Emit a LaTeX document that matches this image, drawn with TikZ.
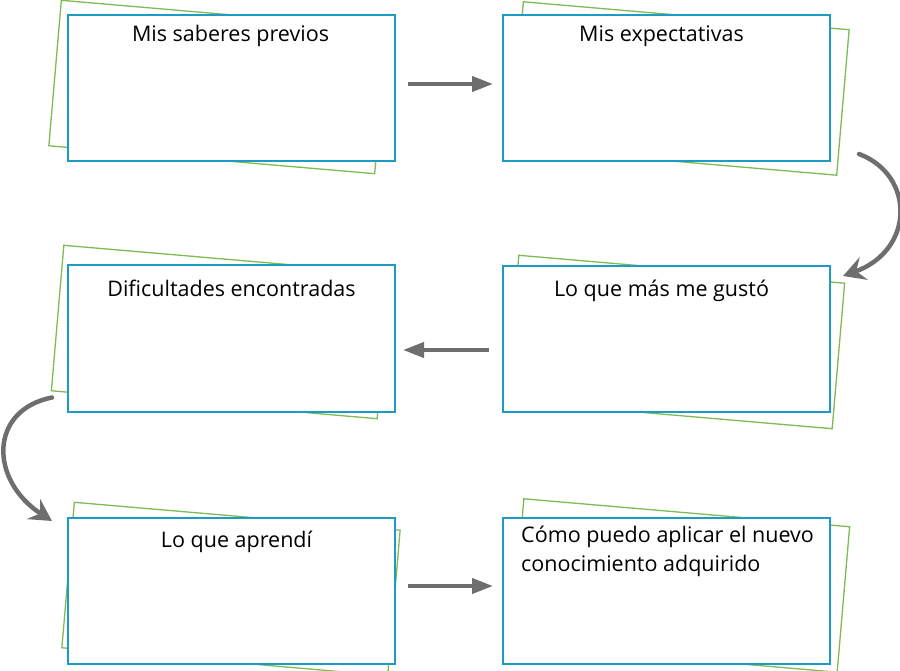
\documentclass[tikz,border=0pt]{standalone}
\usepackage{fontspec}
\setmainfont{Open Sans}
\usetikzlibrary{arrows.meta,calc}
\definecolor{boxblue}{HTML}{1E9BC4}
\definecolor{cardgreen}{HTML}{7DBB55}
\definecolor{arrowgray}{HTML}{6E6E6E}
\begin{document}
\begin{tikzpicture}[x=1pt,y=-1pt,
 card/.style={draw=cardgreen, line width=1.3pt, fill=white, minimum width=327pt, minimum height=146pt, inner sep=0pt, rotate=-4.9},
 panel/.style={draw=boxblue, line width=2pt, fill=white, minimum width=327pt, minimum height=146pt, inner sep=0pt},
 title/.style={font=\fontsize{21.5}{29}\selectfont, anchor=base, inner sep=0pt, text=black},
 flow/.style={draw=arrowgray, line width=4pt, -{Triangle[length=21pt,width=15pt]}},
 curvearrow/.style={draw=arrowgray, line width=4.5pt, line cap=round, -{Stealth[length=22pt,width=24pt,inset=8pt]}}]
\useasboundingbox (0,0) rectangle (900,671);
% green cards behind
\node[card] (g1) at (218,87) {};
\node[card] (g2) at (680,88.5) {};
\node[card] (g3) at (675.5,342) {};
\node[card] (g4) at (220.5,332) {};
\node[card] (g5) at (231,589) {};
\node[card] (g6) at (680.5,585.5) {};
% blue panels
\node[panel] (b1) at (231.5,88) {};
\node[panel] (b2) at (666.5,88) {};
\node[panel] (b3) at (666.5,339) {};
\node[panel] (b4) at (231.5,338.5) {};
\node[panel] (b5) at (231.5,591) {};
\node[panel] (b6) at (666.5,591) {};
% titles
\node[title] (t1) at ($(b1.north)+(-1,28)$) {Mis saberes previos};
\node[title] (t2) at ($(b2.north)+(-5,28)$) {Mis expectativas};
\node[title] (t3) at ($(b3.north)+(-5,32)$) {Lo que más me gustó};
\node[title] (t4) at ($(b4.north)+(0,31.5)$) {Dificultades encontradas};
\node[title] (t5) at ($(b5.north)+(5,30)$) {Lo que aprendí};
\node[title, anchor=base west] (t6a) at ($(b6.north west)+(19,25)$) {Cómo puedo aplicar el nuevo};
\node[title, anchor=base west] (t6b) at ($(b6.north west)+(19,54)$) {conocimiento adquirido};
% straight arrows
\draw[flow] ([xshift=12pt,yshift=4pt]b1.east) -- ([xshift=-9pt,yshift=4pt]b2.west);
\draw[flow] ([xshift=-13pt,yshift=-11pt]b3.west) -- ([xshift=7pt,yshift=-11.5pt]b4.east);
\draw[flow] ([xshift=12pt,yshift=5pt]b5.east) -- ([xshift=-9pt,yshift=5pt]b6.west);
% curved arrows
\coordinate (r1) at ($(b2.south east)+(28,-8)$);
\coordinate (r2) at ($(b3.north east)+(12,11)$);
\draw[curvearrow] (r1) .. controls (915,175) and (915,250) .. (r2);
\coordinate (l1) at ($(b4.south west)+(-15,-15)$);
\coordinate (l2) at ($(b5.north west)+(-15,4)$);
\draw[curvearrow] (l1) .. controls (-11,410) and (-11,480) .. (l2);
\end{tikzpicture}
\end{document}
